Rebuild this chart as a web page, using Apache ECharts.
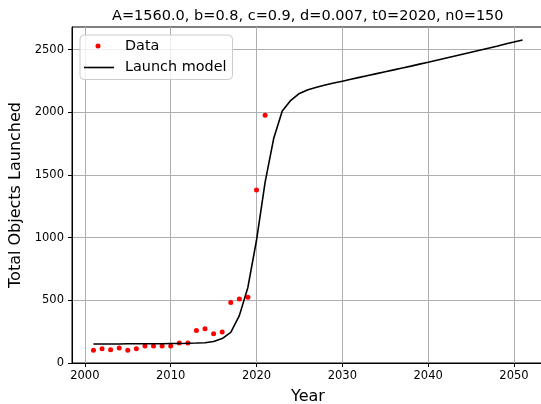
<!DOCTYPE html>
<html>
<head>
<meta charset="utf-8">
<script src="https://cdn.jsdelivr.net/npm/echarts@6/dist/echarts.min.js"></script>
<style>html,body{margin:0;padding:0;background:#fff;}#c{width:541px;height:404px;}</style>
</head>
<body>
<div id="c"></div>
<script>
const titleText = 'A=1560.0, b=0.8, c=0.9, d=0.007, t0=2020, n0=150';
const xLabel = 'Year';
const yLabel = 'Total Objects Launched';
const xTicks = [2000, 2010, 2020, 2030, 2040, 2050];
const yTicks = [0, 500, 1000, 1500, 2000, 2500];

const dataYears = [2001, 2002, 2003, 2004, 2005, 2006, 2007, 2008, 2009, 2010, 2011,
  2012, 2013, 2014, 2015, 2016, 2017, 2018, 2019, 2020, 2021];
const dataValues = [101, 114, 106, 119, 101, 114, 135, 135, 135, 135, 159,
  159, 260, 273, 233, 247, 483, 510, 525, 1380, 1977];

const modelYears = [2001, 2002, 2003, 2004, 2005, 2006, 2007, 2008, 2009, 2010,
  2011, 2012, 2013, 2014, 2015, 2016, 2017, 2018, 2019, 2020,
  2021, 2022, 2023, 2024, 2025, 2026, 2027, 2028, 2029, 2030,
  2031, 2032, 2033, 2034, 2035, 2036, 2037, 2038, 2039, 2040,
  2041, 2042, 2043, 2044, 2045, 2046, 2047, 2048, 2049, 2050, 2051];
const modelValues = [152, 152, 152, 152, 153, 153, 153, 154, 154, 155,
  156, 157, 159, 162, 172, 195, 245, 378, 605, 979,
  1440, 1790, 2010, 2095, 2150, 2180, 2200, 2217, 2233, 2248,
  2263, 2278, 2293, 2308, 2323, 2338, 2353, 2368, 2384, 2399,
  2415, 2431, 2447, 2463, 2479, 2495, 2511, 2527, 2544, 2560, 2577];

const FONT = 'DejaVu Sans';
const chart = echarts.init(document.getElementById('c'), null, {renderer: 'canvas'});

const dataPts = dataYears.map((y, i) => [y, dataValues[i]]);
const modelPts = modelYears.map((y, i) => [y, modelValues[i]]);

const dotIcon = 'path://M0,0 M30,14 M14,4.5 A2.5,2.5 0 1 1 14,9.5 A2.5,2.5 0 1 1 14,4.5 Z';
const lineIcon = 'path://M0,0 M30,14 M0,6.2 L30,6.2 L30,7.8 L0,7.8 Z';

chart.setOption({
  animation: false,
  backgroundColor: '#fff',
  title: {
    text: titleText,
    left: 112, top: 9, padding: 0,
    textStyle: {fontFamily: FONT, fontSize: 14.5, fontWeight: 'normal', color: '#000'}
  },
  grid: {
    left: 72, top: 27, width: 472, height: 336,
    outerBoundsMode: 'none', containLabel: false,
    show: true, borderColor: '#000', borderWidth: 1, backgroundColor: 'transparent'
  },
  legend: {
    left: 80, top: 35, orient: 'vertical',
    padding: [4, 6, 5, 4],
    itemGap: 7.5, itemWidth: 30, itemHeight: 14,
    backgroundColor: 'rgba(255,255,255,0.8)',
    borderColor: '#cccccc', borderWidth: 1, borderRadius: 4,
    textStyle: {fontFamily: FONT, fontSize: 14.4, color: '#000', lineHeight: 14, padding: [0, 0, 0, 6]},
    data: [
      {name: 'Data', icon: dotIcon, itemStyle: {color: '#ff0000', opacity: 1, borderWidth: 0}},
      {name: 'Launch model', icon: lineIcon, itemStyle: {color: '#000', opacity: 1, borderWidth: 0}}
    ]
  },
  xAxis: {
    type: 'value', min: 1998.5, max: 2053.5,
    name: xLabel, nameLocation: 'middle', nameGap: 26,
    nameTextStyle: {fontFamily: FONT, fontSize: 16, color: '#000'},
    axisLine: {show: true, onZero: false, lineStyle: {color: '#000', width: 1}},
    axisTick: {show: true, length: 4, lineStyle: {color: '#000'},
      customValues: xTicks},
    axisLabel: {fontFamily: FONT, fontSize: 11.5, color: '#000', margin: 7,
      customValues: xTicks,
      formatter: v => String(v)},
    splitLine: {show: true, lineStyle: {color: '#b0b0b0', width: 1}},
  },
  yAxis: {
    type: 'value', min: 0, max: 2680, interval: 500,
    name: yLabel, nameLocation: 'middle', nameGap: 41,
    nameTextStyle: {fontFamily: FONT, fontSize: 16, color: '#000'},
    axisLine: {show: true, onZero: false, lineStyle: {color: '#000', width: 1}},
    axisTick: {show: true, length: 4, lineStyle: {color: '#000'}, customValues: yTicks},
    axisLabel: {fontFamily: FONT, fontSize: 11.5, color: '#000', margin: 8,
      customValues: yTicks, formatter: v => String(v)},
    splitLine: {show: true, lineStyle: {color: '#b0b0b0', width: 1}},
  },
  series: [
    {
      name: 'Data', type: 'scatter', data: dataPts,
      symbol: 'circle', symbolSize: 5,
      itemStyle: {color: '#ff0000', opacity: 1}, z: 2
    },
    {
      name: 'Launch model', type: 'line', data: modelPts,
      symbol: 'none', showSymbol: false,
      lineStyle: {color: '#000', width: 1.6},
      itemStyle: {color: '#000'}, z: 3
    }
  ]
});
</script>
</body>
</html>
